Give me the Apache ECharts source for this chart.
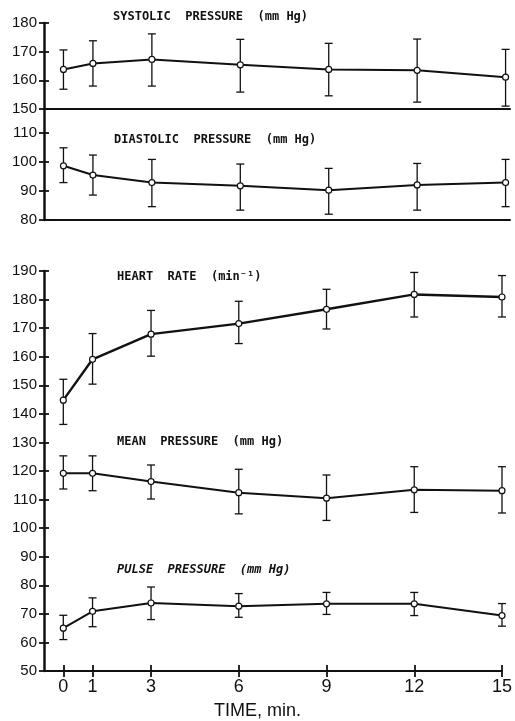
<!DOCTYPE html>
<html>
<head>
<meta charset="utf-8">
<script src="https://cdn.jsdelivr.net/npm/echarts@6/dist/echarts.min.js"></script>
<style>
  html, body { margin: 0; padding: 0; background: #fff; }
  #chart { width: 515px; height: 721px; }
</style>
</head>
<body>
<div id="chart"></div>
<script>
// time points (min)
var times = [0, 1, 3, 6, 9, 12, 15];

// systolic pressure (mm Hg)
var systolicMean = [163.8, 165.9, 167.3, 165.4, 163.8, 163.5, 161.1];
var systolicHigh = [170.6, 173.8, 176.2, 174.3, 172.9, 174.4, 170.8];
var systolicLow = [156.9, 158.0, 158.0, 155.9, 154.6, 152.4, 151.0];

// diastolic pressure (mm Hg)
var diastolicMean = [98.7, 95.5, 92.9, 91.8, 90.3, 92.1, 92.9];
var diastolicHigh = [104.9, 102.4, 100.9, 99.3, 97.8, 99.5, 100.9];
var diastolicLow = [92.9, 88.6, 84.6, 83.4, 82.0, 83.4, 84.6];

// heart rate (min-1)
var heartRateMean = [144.8, 159.1, 167.9, 171.6, 176.6, 181.8, 180.9];
var heartRateHigh = [152.1, 168.1, 176.2, 179.4, 183.6, 189.5, 188.4];
var heartRateLow = [136.3, 150.4, 160.2, 164.6, 169.7, 173.9, 173.9];

// mean pressure (mm Hg)
var meanPressureMean = [119.2, 119.2, 116.3, 112.4, 110.5, 113.4, 113.1];
var meanPressureHigh = [125.3, 125.3, 122.1, 120.6, 118.6, 121.5, 121.5];
var meanPressureLow = [113.7, 113.1, 110.2, 105.0, 102.7, 105.5, 105.3];

// pulse pressure (mm Hg)
var pulseMean = [65.0, 70.9, 73.8, 72.7, 73.5, 73.5, 69.4];
var pulseHigh = [69.5, 75.6, 79.4, 77.1, 77.5, 77.5, 73.6];
var pulseLow = [61.0, 65.5, 68.0, 68.8, 69.8, 69.4, 65.7];

// tick labels
var systolicTicks = [150, 160, 170, 180];
var diastolicTicks = [80, 90, 100, 110];
var lowerTicks = [50, 60, 70, 80, 90, 100, 110, 120, 130, 140, 150, 160, 170, 180, 190];
var timeTicks = [0, 1, 3, 6, 9, 12, 15];

var INK = '#111';
var numFont = '"Liberation Sans Narrow", "Liberation Sans", sans-serif';
var capFont = '"DejaVu Sans Mono", "Liberation Mono", monospace';

function zip(xs, ys) {
  return xs.map(function (x, i) { return [x, ys[i]]; });
}

function lineSeries(name, ax, values, width) {
  return {
    name: name,
    type: 'line',
    xAxisIndex: ax.x,
    yAxisIndex: ax.y,
    data: zip(times, values),
    symbol: 'circle',
    symbolSize: 6,
    lineStyle: { color: INK, width: width || 2 },
    itemStyle: { color: '#fff', borderColor: INK, borderWidth: 1.2 },
    z: 3,
    animation: false
  };
}

function errorSeries(name, ax, low, high) {
  var data = times.map(function (t, i) { return [t, low[i], high[i]]; });
  return {
    name: name + ' SD',
    type: 'custom',
    xAxisIndex: ax.x,
    yAxisIndex: ax.y,
    data: data,
    z: 2,
    animation: false,
    renderItem: function (params, api) {
      var lo = api.coord([api.value(0), api.value(1)]);
      var hi = api.coord([api.value(0), api.value(2)]);
      var w = 4;
      var style = { stroke: INK, lineWidth: 1.3 };
      return {
        type: 'group',
        children: [
          { type: 'line', shape: { x1: lo[0], y1: lo[1], x2: hi[0], y2: hi[1] }, style: style },
          { type: 'line', shape: { x1: hi[0] - w, y1: hi[1], x2: hi[0] + w, y2: hi[1] }, style: style },
          { type: 'line', shape: { x1: lo[0] - w, y1: lo[1], x2: lo[0] + w, y2: lo[1] }, style: style }
        ]
      };
    }
  };
}

// y axis drawn twice so the ticks cross the spine
function yAxisPair(grid, min, max, ticks) {
  var main = {
    type: 'value', gridIndex: grid, position: 'left', min: min, max: max,
    axisLine: { show: true, onZero: false, lineStyle: { color: INK, width: 2.5 } },
    axisTick: { show: true, length: 5, customValues: ticks, lineStyle: { color: INK, width: 1.8 } },
    axisLabel: { customValues: ticks, color: INK, fontFamily: numFont, fontSize: 15, margin: 7 },
    splitLine: { show: false }
  };
  var inner = {
    type: 'value', gridIndex: grid, position: 'left', min: min, max: max,
    axisLine: { show: false, onZero: false },
    axisTick: { show: true, inside: true, length: 5, customValues: ticks, lineStyle: { color: INK, width: 1.8 } },
    axisLabel: { show: false },
    splitLine: { show: false }
  };
  return [main, inner];
}

function baseX(grid) {
  return {
    type: 'value', gridIndex: grid, position: 'bottom', min: -0.66, max: 15.15,
    axisLine: { show: true, onZero: false, lineStyle: { color: INK, width: 2 } },
    axisTick: { show: false },
    axisLabel: { show: false },
    splitLine: { show: false }
  };
}

function titleText(text, left, top, italic) {
  return {
    text: text, left: left, top: top, padding: 0,
    textStyle: { fontFamily: capFont, fontSize: 12, fontWeight: 'bold', fontStyle: italic ? 'italic' : 'normal', color: INK }
  };
}

var chart = echarts.init(document.getElementById('chart'));

var timeAxis = baseX(2);
timeAxis.axisTick = { show: true, length: 6, customValues: timeTicks, lineStyle: { color: INK, width: 1.8 } };
timeAxis.axisLabel = { show: true, customValues: timeTicks, color: INK, fontFamily: numFont, fontSize: 18, margin: 7 };
timeAxis.max = 15;

var timeAxisInner = {
  type: 'value', gridIndex: 2, position: 'bottom', min: -0.66, max: 15,
  axisLine: { show: false, onZero: false },
  axisTick: { show: true, inside: true, length: 6, customValues: timeTicks, lineStyle: { color: INK, width: 1.8 } },
  axisLabel: { show: false },
  splitLine: { show: false }
};

var yAxes = []
  .concat(yAxisPair(0, 150, 180, systolicTicks))
  .concat(yAxisPair(1, 80, 118.28, diastolicTicks))
  .concat(yAxisPair(2, 50, 190, lowerTicks));

var option = {
  backgroundColor: '#fff',
  animation: false,
  title: [
    titleText('SYSTOLIC  PRESSURE  (mm Hg)', 113, 11),
    titleText('DIASTOLIC  PRESSURE  (mm Hg)', 114, 134),
    titleText('HEART  RATE  (min⁻¹)', 117, 271),
    titleText('MEAN  PRESSURE  (mm Hg)', 117, 436),
    titleText('PULSE  PRESSURE  (mm Hg)', 117, 564, true),
    {
      text: 'TIME, min.', left: 214, top: 702, padding: 0,
      textStyle: { fontFamily: '"Liberation Sans", sans-serif', fontSize: 18, fontWeight: 'normal', color: INK }
    }
  ],
  grid: [
    { left: 44, top: 23, width: 466, height: 86 },
    { left: 44, top: 109, width: 466, height: 111 },
    { left: 44, top: 271, width: 462, height: 400 }
  ],
  xAxis: [baseX(0), baseX(1), timeAxis, timeAxisInner],
  yAxis: yAxes,
  series: [
    errorSeries('Systolic', { x: 0, y: 0 }, systolicLow, systolicHigh),
    lineSeries('Systolic', { x: 0, y: 0 }, systolicMean),
    errorSeries('Diastolic', { x: 1, y: 2 }, diastolicLow, diastolicHigh),
    lineSeries('Diastolic', { x: 1, y: 2 }, diastolicMean),
    errorSeries('Heart rate', { x: 2, y: 4 }, heartRateLow, heartRateHigh),
    lineSeries('Heart rate', { x: 2, y: 4 }, heartRateMean, 2.4),
    errorSeries('Mean pressure', { x: 2, y: 4 }, meanPressureLow, meanPressureHigh),
    lineSeries('Mean pressure', { x: 2, y: 4 }, meanPressureMean),
    errorSeries('Pulse pressure', { x: 2, y: 4 }, pulseLow, pulseHigh),
    lineSeries('Pulse pressure', { x: 2, y: 4 }, pulseMean)
  ]
};

chart.setOption(option);
</script>
</body>
</html>
